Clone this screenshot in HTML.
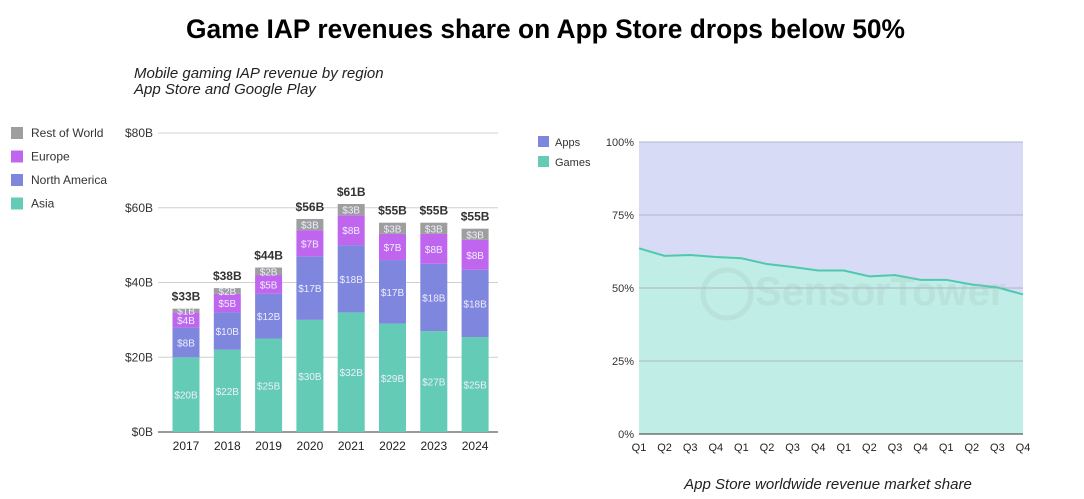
<!DOCTYPE html>
<html><head><meta charset="utf-8"><style>
html,body{margin:0;padding:0;background:#fff;width:1084px;height:499px;overflow:hidden;font-family:"Liberation Sans",sans-serif}
</style></head><body>
<svg width="1084" height="499" xmlns="http://www.w3.org/2000/svg">
<text x="186" y="38" textLength="719" lengthAdjust="spacingAndGlyphs" font-size="27" font-weight="bold" fill="#000">Game IAP revenues share on App Store drops below 50%</text>
<text x="134" y="78" font-size="15" font-style="italic" fill="#222">Mobile gaming IAP revenue by region</text>
<text x="134" y="94" font-size="15" font-style="italic" fill="#222">App Store and Google Play</text>
<text x="828" y="489" text-anchor="middle" font-size="15" font-style="italic" fill="#222">App Store worldwide revenue market share</text>
<g id="left"></g>
<g id="right"></g>
</svg>
<script>
const years=["2017","2018","2019","2020","2021","2022","2023","2024"];
const asia=[20,22,25,30,32,29,27,25.4];
const northAmerica=[8,10,12,17,18,17,18,18];
const europe=[4,5,5,7,8,7,8,8];
const restOfWorld=[1,1.5,2,3,3,3,3,3];
const totals=["$33B","$38B","$44B","$56B","$61B","$55B","$55B","$55B"];
const yTicks=[0,20,40,60,80];
const quarters=["Q1","Q2","Q3","Q4","Q1","Q2","Q3","Q4","Q1","Q2","Q3","Q4","Q1","Q2","Q3","Q4"];
const gamesShare=[63.6,61,61.3,60.6,60.2,58.2,57.2,56,56,54,54.4,52.8,52.8,51.2,50.2,47.8];
const pctTicks=[0,25,50,75,100];
const NS="http://www.w3.org/2000/svg";
function mk(t,a,p,txt){const e=document.createElementNS(NS,t);for(const k in a)e.setAttribute(k,a[k]);if(txt!==undefined)e.textContent=txt;p.appendChild(e);return e;}
const L=document.getElementById('left');
const y0=432,yTop=133,yMax=80;
const ys=v=>y0-(y0-yTop)*v/yMax;
const xs=i=>186+i*41.3;
yTicks.forEach(t=>{
 const g=mk('line',{x1:158,x2:498,y1:ys(t),y2:ys(t),stroke:t===0?'#333':'#d0d0d0','stroke-width':1},L);
 
 const l=mk('text',{x:153,y:ys(t)+4,'text-anchor':'end','font-size':12,fill:'#333'},L,'$'+t+'B');
 
});
const series=[[asia,'#63cbb6','asia'],[northAmerica,'#7f86dd','north-america'],[europe,'#c066ee','europe'],[restOfWorld,'#9e9e9e','rest-of-world']];
years.forEach((yr,i)=>{
 let acc=0;const bw=27,cx=xs(i);
 series.forEach(([arr,col,nm])=>{
  const v=arr[i];const top=ys(acc+v),bot=ys(acc);
  const r=mk('rect',{x:cx-bw/2,y:top,width:bw,height:bot-top,fill:col},L);
  
  const t=mk('text',{x:cx,y:(top+bot)/2+4,'text-anchor':'middle','font-size':10,fill:'#eef'},L,'$'+Math.round(v)+'B');
  
  acc+=v;
 });
 const tt=mk('text',{x:cx,y:ys(acc)-8,'text-anchor':'middle','font-size':12,'font-weight':'bold',fill:'#333'},L,totals[i]);
 
 const xl=mk('text',{x:cx,y:450,'text-anchor':'middle','font-size':12,fill:'#222'},L,yr);
 
});
[['Rest of World','#9e9e9e'],['Europe','#c066ee'],['North America','#7f86dd'],['Asia','#63cbb6']].forEach(([n,c],i)=>{
 const y=133+i*23.5;
 const s=mk('rect',{x:11,y:y-6,width:12,height:12,fill:c},L);
 
 const t=mk('text',{x:31,y:y+4,'font-size':12,fill:'#333'},L,n);
 
});
const R=document.getElementById('right');
const rx0=639,rx1=1023,ry0=434,ry1=142;
const rxs=i=>rx0+(rx1-rx0)*i/(quarters.length-1);
const rys=v=>ry0-(ry0-ry1)*v/100;
const bg=mk('rect',{x:rx0,y:ry1,width:rx1-rx0,height:ry0-ry1,fill:'#d8dbf5'},R);

let pts=gamesShare.map((v,i)=>rxs(i)+','+rys(v)).join(' ');
const area=mk('polygon',{points:rx0+','+ry0+' '+pts+' '+rx1+','+ry0,fill:'#c0ede5'},R);

pctTicks.forEach(t=>{
 const g=mk('line',{x1:rx0,x2:rx1,y1:rys(t),y2:rys(t),stroke:t===0?'#333':'#b0b4cc','stroke-width':1},R);
 
 const l=mk('text',{x:634,y:rys(t)+4,'text-anchor':'end','font-size':11,fill:'#333'},R,t+'%');
 
});
const ln=mk('polyline',{points:pts,fill:'none',stroke:'#4fc9ad','stroke-width':2},R);

const wm=mk('text',{x:755,y:305,'font-size':40,'font-weight':'bold',fill:'#9bbcb8','fill-opacity':0.22},R,'SensorTower');

const wc=mk('circle',{cx:727,cy:294,r:24,fill:'none',stroke:'#9bbcb8','stroke-width':5,'stroke-opacity':0.22},R);

quarters.forEach((q,i)=>{
 const t=mk('text',{x:rxs(i),y:451,'text-anchor':'middle','font-size':11,fill:'#222'},R,q);
 
});
[['Apps','#7f86dd'],['Games','#63cbb6']].forEach(([n,c],i)=>{
 const y=142+i*20;
 const s=mk('rect',{x:538,y:y-6,width:11,height:11,fill:c},R);
 
 const t=mk('text',{x:555,y:y+4,'font-size':11,fill:'#333'},R,n);
 
});
</script>
</body></html>
